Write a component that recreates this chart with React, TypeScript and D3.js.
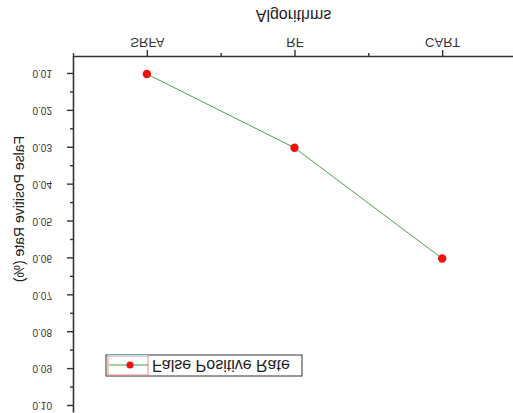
import { useEffect, useRef } from "react";
import * as d3 from "d3";

const algorithms = ["SRFA", "RF", "CART"];
const falsePositiveRate = [0.01, 0.03, 0.06];
const yTickValues = [0.01, 0.02, 0.03, 0.04, 0.05, 0.06, 0.07, 0.08, 0.09, 0.1];
const yMinorTicks = [0.015, 0.025, 0.035, 0.045, 0.055, 0.065, 0.075, 0.085, 0.095];
const seriesName = "False Positive Rate";

export default function App() {
    const svgRef = useRef<SVGSVGElement | null>(null);

    useEffect(() => {
        const width = 513;
        const height = 413;
        const font = "Arial, 'Liberation Sans', sans-serif";
        const axisColor = "#333";

        const svg = d3.select(svgRef.current)
            .attr("width", width)
            .attr("height", height);
        svg.selectAll("*").remove();

        // the reference is upside down: draw normally, then flip the whole thing
        const g = svg.append("g")
            .attr("transform", `translate(0,${height}) scale(1,-1)`);

        const x = d3.scaleLinear()
            .domain([0.5, algorithms.length + 0.5])
            .range([73, 516]);

        const y = d3.scaleLinear()
            .domain([0.0054, 0.1019])
            .range([356, 0]);

        // x axis (major with labels, minor between)
        const xAxis = g.append("g")
            .attr("transform", `translate(0,${y(0.0054)})`)
            .call(d3.axisBottom(x)
                .tickValues(algorithms.map((_, i) => i + 1))
                .tickFormat((d: any) => algorithms[d - 1])
                .tickSize(7)
                .tickPadding(3)
                .tickSizeOuter(0));
        xAxis.select(".domain").attr("stroke", axisColor).attr("stroke-width", 1.6);
        xAxis.selectAll(".tick line").attr("stroke", axisColor).attr("stroke-width", 1.4);
        xAxis.selectAll(".tick text")
            .attr("font-family", font)
            .attr("font-size", 13)
            .attr("fill", "#333");

        g.append("g")
            .attr("transform", `translate(0,${y(0.0054)})`)
            .call(d3.axisBottom(x)
                .tickValues([0.5, 1.5, 2.5, 3.5])
                .tickFormat(() => "")
                .tickSize(4)
                .tickSizeOuter(0))
            .call(s => s.select(".domain").remove())
            .call(s => s.selectAll(".tick line").attr("stroke", axisColor).attr("stroke-width", 1.4));

        // y axis
        const yAxis = g.append("g")
            .attr("transform", `translate(${x(0.5)},0)`)
            .call(d3.axisLeft(y)
                .tickValues(yTickValues)
                .tickFormat(d3.format(".2f") as any)
                .tickSize(6)
                .tickPadding(15)
                .tickSizeOuter(0));
        yAxis.select(".domain").attr("stroke", axisColor).attr("stroke-width", 1.6);
        yAxis.selectAll(".tick line").attr("stroke", axisColor).attr("stroke-width", 1.4);
        yAxis.selectAll(".tick text")
            .attr("font-family", font)
            .attr("font-size", 10)
            .attr("fill", "#333");

        g.append("g")
            .attr("transform", `translate(${x(0.5)},0)`)
            .call(d3.axisLeft(y)
                .tickValues(yMinorTicks)
                .tickFormat(() => "")
                .tickSize(3)
                .tickSizeOuter(0))
            .call(s => s.select(".domain").remove())
            .call(s => s.selectAll(".tick line").attr("stroke", axisColor).attr("stroke-width", 1.4));

        // axis titles
        g.append("text")
            .attr("x", (x(0.5) + x(3.5)) / 2 - 1)
            .attr("y", 398)
            .attr("text-anchor", "middle")
            .attr("dominant-baseline", "central")
            .attr("font-family", font)
            .attr("font-size", 16)
            .attr("fill", "#222")
            .text("Algorithms");

        g.append("text")
            .attr("transform", `translate(19,${height - 209}) rotate(-90)`)
            .attr("text-anchor", "middle")
            .attr("dominant-baseline", "central")
            .attr("font-family", font)
            .attr("font-size", 14)
            .attr("fill", "#222")
            .text("False Positive Rate (%)");

        // series line and points
        const points = falsePositiveRate.map((v, i) => ({ i: i + 1, v }));
        const line = d3.line<{ i: number; v: number }>()
            .x(d => x(d.i))
            .y(d => y(d.v));

        g.append("path")
            .attr("fill", "none")
            .attr("stroke", "#4f9f4f")
            .attr("stroke-width", 1)
            .attr("d", line(points));

        g.selectAll(".pt")
            .data(points)
            .enter()
            .append("circle")
            .attr("class", "pt")
            .attr("cx", d => x(d.i))
            .attr("cy", d => y(d.v))
            .attr("r", 4.2)
            .attr("fill", "#f01010");

        // legend
        const legend = g.append("g");
        legend.append("rect")
            .attr("x", 106).attr("y", 37)
            .attr("width", 196).attr("height", 21)
            .attr("fill", "white")
            .attr("stroke", "#555")
            .attr("stroke-width", 1.2);
        legend.append("rect")
            .attr("x", 108).attr("y", 38)
            .attr("width", 40).attr("height", 19)
            .attr("fill", "none")
            .attr("stroke", "#e88")
            .attr("stroke-width", 1);
        legend.append("line")
            .attr("x1", 108).attr("x2", 148)
            .attr("y1", 57.5).attr("y2", 57.5)
            .attr("stroke", "#9ee")
            .attr("stroke-width", 1.2);
        legend.append("line")
            .attr("x1", 109).attr("x2", 148)
            .attr("y1", 48).attr("y2", 48)
            .attr("stroke", "#4f9f4f")
            .attr("stroke-width", 1);
        legend.append("circle")
            .attr("cx", 130).attr("cy", 48)
            .attr("r", 3.5)
            .attr("fill", "#f01010");
        legend.append("text")
            .attr("x", 152).attr("y", 48)
            .attr("dominant-baseline", "central")
            .attr("font-family", font)
            .attr("font-size", 16)
            .attr("fill", "#222")
            .text(seriesName);
    }, []);

    return (
        <svg ref={svgRef} style={{ position: "absolute", left: 0, top: 0, background: "white" }} />
    );
}
